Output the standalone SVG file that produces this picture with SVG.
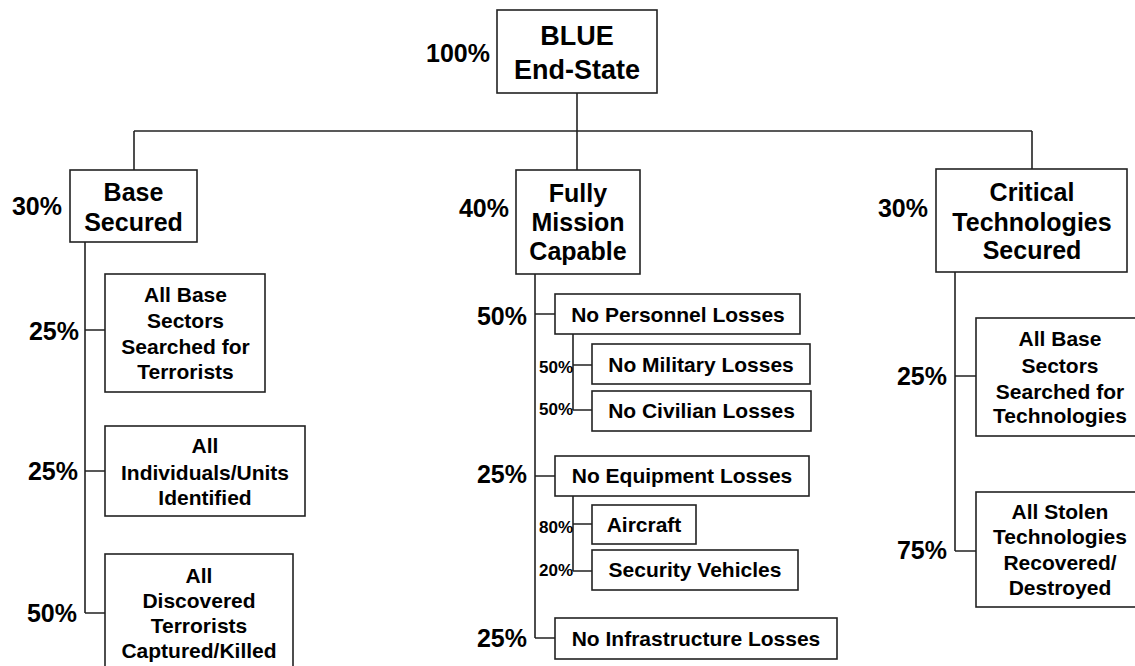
<svg xmlns="http://www.w3.org/2000/svg" width="1135" height="666" viewBox="0 0 1135 666">
<style>
  rect.box { fill: #fff; stroke: #222; stroke-width: 1.6; }
  .conn path { fill: none; stroke: #222; stroke-width: 1.6; }
  text { font-family: "Liberation Sans", Arial, sans-serif; font-weight: bold; fill: #000; }
  .root { font-size: 27px; text-anchor: middle; }
  .main { font-size: 25px; text-anchor: middle; }
  .sub { font-size: 21px; text-anchor: middle; }
  .pct { font-size: 25px; text-anchor: end; }
  .spct { font-size: 17px; text-anchor: start; }
</style>
<rect width="1135" height="666" fill="#fff"/>
<g class="conn" id="connectors">
  <path d="M577,93 V131"/>
  <path d="M134,131 H1032"/>
  <path d="M134,131 V170"/>
  <path d="M577,131 V170"/>
  <path d="M1032,131 V169"/>
  <path d="M85,242 V613 M85,330 H105 M85,471 H105 M85,613 H105"/>
  <path d="M535,274 V638 M535,314 H555 M535,476 H555 M535,638 H555"/>
  <path d="M573,334 V410 M573,365 H592 M573,410 H592"/>
  <path d="M573,496 V571 M573,524 H592 M573,571 H592"/>
  <path d="M955,272 V551 M955,376 H976 M955,551 H976"/>
</g>
<g id="root">
  <rect class="box" x="497" y="10" width="160" height="83"/>
  <text class="root" x="577" y="45">BLUE<tspan x="577" y="79">End-State</tspan></text>
  <text class="pct" x="490" y="62">100%</text>
</g>
<g id="base-secured">
  <rect class="box" x="70" y="170" width="127" height="72"/>
  <text class="main" x="133.5" y="201">Base<tspan x="133.5" y="231">Secured</tspan></text>
  <text class="pct" x="62" y="215">30%</text>
</g>
<g id="base-sectors">
  <rect class="box" x="105" y="274" width="160" height="118"/>
  <text class="sub" x="185.5" y="302">All Base<tspan x="185.5" y="328">Sectors</tspan><tspan x="185.5" y="354">Searched for</tspan><tspan x="185.5" y="379">Terrorists</tspan></text>
  <text class="pct" x="79" y="340">25%</text>
</g>
<g id="individuals">
  <rect class="box" x="105" y="426" width="200" height="90"/>
  <text class="sub" x="205" y="453">All<tspan x="205" y="480">Individuals/Units</tspan><tspan x="205" y="505">Identified</tspan></text>
  <text class="pct" x="78" y="480">25%</text>
</g>
<g id="terrorists">
  <rect class="box" x="105" y="554" width="188" height="130"/>
  <text class="sub" x="199" y="583">All<tspan x="199" y="608">Discovered</tspan><tspan x="199" y="633">Terrorists</tspan><tspan x="199" y="658">Captured/Killed</tspan></text>
  <text class="pct" x="77" y="622">50%</text>
</g>
<g id="mission-capable">
  <rect class="box" x="516" y="170" width="124" height="104"/>
  <text class="main" x="578" y="202">Fully<tspan x="578" y="231">Mission</tspan><tspan x="578" y="260">Capable</tspan></text>
  <text class="pct" x="509" y="217">40%</text>
</g>
<g id="personnel">
  <rect class="box" x="555" y="294" width="245" height="40"/>
  <text class="sub" x="678" y="322">No Personnel Losses</text>
  <text class="pct" x="527" y="325">50%</text>
</g>
<g id="military">
  <rect class="box" x="592" y="344" width="218" height="40"/>
  <text class="sub" x="701" y="372">No Military Losses</text>
  <text class="spct" x="539" y="373">50%</text>
</g>
<g id="civilian">
  <rect class="box" x="592" y="391" width="219" height="40"/>
  <text class="sub" x="701.5" y="418">No Civilian Losses</text>
  <text class="spct" x="539" y="415">50%</text>
</g>
<g id="equipment">
  <rect class="box" x="555" y="456" width="254" height="40"/>
  <text class="sub" x="682" y="483">No Equipment Losses</text>
  <text class="pct" x="527" y="483">25%</text>
</g>
<g id="aircraft">
  <rect class="box" x="592" y="505" width="104" height="39"/>
  <text class="sub" x="644" y="532">Aircraft</text>
  <text class="spct" x="539" y="533">80%</text>
</g>
<g id="vehicles">
  <rect class="box" x="592" y="550" width="206" height="40"/>
  <text class="sub" x="695" y="577">Security Vehicles</text>
  <text class="spct" x="539" y="576">20%</text>
</g>
<g id="infrastructure">
  <rect class="box" x="555" y="618" width="282" height="41"/>
  <text class="sub" x="696" y="646">No Infrastructure Losses</text>
  <text class="pct" x="527" y="647">25%</text>
</g>
<g id="critical-tech">
  <rect class="box" x="936" y="169" width="191" height="103"/>
  <text class="main" x="1032" y="201">Critical<tspan x="1032" y="231">Technologies</tspan><tspan x="1032" y="259">Secured</tspan></text>
  <text class="pct" x="928" y="217">30%</text>
</g>
<g id="tech-sectors">
  <rect class="box" x="976" y="318" width="170" height="118"/>
  <text class="sub" x="1060" y="346">All Base<tspan x="1060" y="373">Sectors</tspan><tspan x="1060" y="399">Searched for</tspan><tspan x="1060" y="423">Technologies</tspan></text>
  <text class="pct" x="947" y="385">25%</text>
</g>
<g id="stolen-tech">
  <rect class="box" x="976" y="492" width="170" height="115"/>
  <text class="sub" x="1060" y="519">All Stolen<tspan x="1060" y="544">Technologies</tspan><tspan x="1060" y="570">Recovered/</tspan><tspan x="1060" y="595">Destroyed</tspan></text>
  <text class="pct" x="947" y="559">75%</text>
</g>
</svg>
